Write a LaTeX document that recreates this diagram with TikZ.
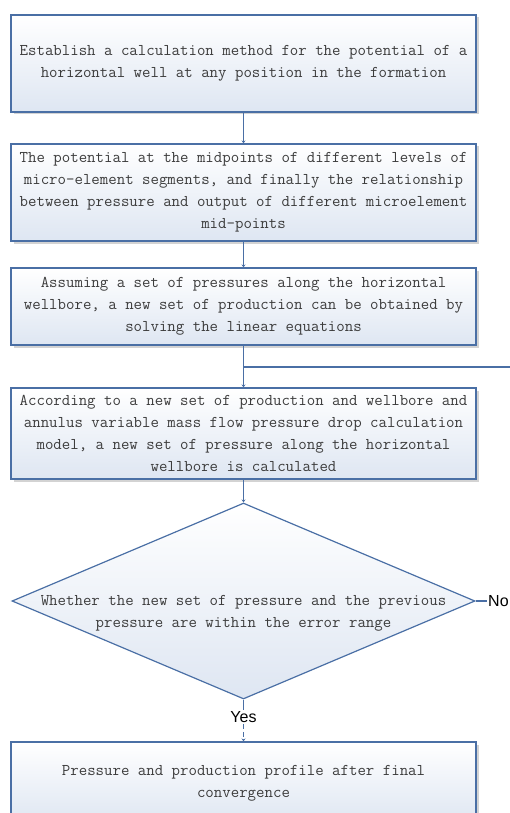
\documentclass[tikz,border=0pt]{standalone}
\usepackage{fontspec}
\newfontfamily\labelfont{Liberation Sans}
\usetikzlibrary{shapes.geometric,arrows.meta,shadows}
\definecolor{edgeblue}{RGB}{74,111,165}
\definecolor{fillblue}{RGB}{222,230,242}
\definecolor{txtgray}{RGB}{60,60,60}
\definecolor{shadowgray}{RGB}{200,200,200}
\tikzset{
  boxtext/.style={align=center, text=txtgray, font=\ttfamily\fontsize{16.4pt}{22pt}\selectfont},
  procbox/.style={boxtext, draw=edgeblue, line width=1.2pt, rectangle, minimum width=465pt,
    top color=white, bottom color=fillblue, inner sep=0pt,
    drop shadow={shadow xshift=2.5pt, shadow yshift=-2.5pt, fill=shadowgray, opacity=0.8}},
  decbox/.style={draw=edgeblue, line width=1.2pt, diamond, minimum width=463pt, minimum height=196pt,
    top color=white, bottom color=fillblue, inner sep=0pt},
  conn/.style={draw=edgeblue, line width=1.8pt, -{Stealth[length=3pt,width=4pt]}},
  plainconn/.style={draw=edgeblue, line width=1.8pt},
  lbl/.style={font=\labelfont\fontsize{16pt}{18pt}\selectfont, text=black, inner sep=1pt},
}
\begin{document}
\begin{tikzpicture}[x=1pt,y=-1pt]
\useasboundingbox (0,0) rectangle (510,813);
\node[procbox, minimum height=97pt] (b1) at (243.5,63.5)
  {Establish a calculation method for the potential of a\\horizontal well at any position in the formation};
\node[procbox, minimum height=97pt] (b2) at (243.5,192.5)
  {The potential at the midpoints of different levels of\\micro-element segments, and finally the relationship\\between pressure and output of different microelement\\mid-points};
\node[procbox, minimum height=77pt] (b3) at (243.5,306.5)
  {Assuming a set of pressures along the horizontal\\wellbore, a new set of production can be obtained by\\solving the linear equations};
\node[procbox, minimum height=91pt] (b4) at (243.5,433.5)
  {According to a new set of production and wellbore and\\annulus variable mass flow pressure drop calculation\\model, a new set of pressure along the horizontal\\wellbore is calculated};
\node[decbox] (d) at (243.5,601) {};
\node[boxtext, inner sep=0pt] (dt) at (243.5,613)
  {Whether the new set of pressure and the previous\\pressure are within the error range};
\node[procbox, minimum height=82pt] (b5) at (243.5,783)
  {Pressure and production profile after final\\convergence};
\node[lbl, anchor=west] (no) at (487,601) {No};
\node[lbl, fill=white] (yes) at (243.5,717) {Yes};
\coordinate (j) at (243.5,367);
\coordinate (r) at (512,367);
\draw[conn] (b1.south) -- (b2.north);
\draw[conn] (b2.south) -- (b3.north);
\draw[conn] (b3.south) -- (b4.north);
\draw[plainconn] (j) -- (r);
\draw[conn] (b4.south) -- (d.north);
\draw[plainconn] (d.east) -- (no.west);
\draw[plainconn] (d.south) -- (yes.north);
\draw[conn, dashed, dash pattern=on 5pt off 3pt] (yes.south) -- (b5.north);
\end{tikzpicture}
\end{document}
